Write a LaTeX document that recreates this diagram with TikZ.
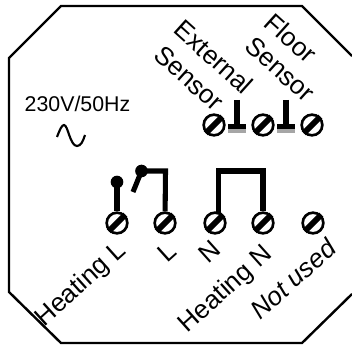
\documentclass[tikz,border=0pt]{standalone}
\usepackage{fontspec}
\setmainfont{Liberation Sans}
\usetikzlibrary{positioning}
\tikzset{
  screw/.style={circle, draw=black, line width=2pt, minimum size=15.5pt, inner sep=0pt},
  stripe/.style={line width=4.4pt, line cap=butt},
  wire/.style={black, line width=3.8pt},
  dot/.style={circle, fill=black, minimum size=9.5pt, inner sep=0pt},
  lbl/.style={font=\fontsize{19.5}{21}\selectfont, inner sep=0pt, align=center},
}
\begin{document}
\begin{tikzpicture}[x=.75pt, y=-.75pt]
\useasboundingbox (0,0) rectangle (352,345);

\draw[line width=1.8pt] (352,56) -- (302,6) -- (61,6) -- (9,58) -- (9,292) -- (61,343) -- (302,343) -- (352,294); %frame

\node[lbl, font=\fontsize{16}{18}\selectfont] (supply) at (77.5,103.5) {230V/50Hz};
\coordinate (wavestart) at (57,137);
\coordinate (waveend) at (85,135);
\draw[line width=1.6pt] (wavestart) .. controls (60,129) and (62,125) .. (64,125) .. controls (68,125) and (70,146) .. (77,146) .. controls (81,146) and (83,141) .. (waveend); %ac

%terminals
\foreach \name/\x/\y in {ext/214/125, com/263/125, flr/312/125, heatl/117/223, live/165/223, neut/215/223, heatn/263/223, unused/313/223}{
  \node[screw] (\name) at (\x,\y) {};
  \draw[stripe] (\name.225) -- (\name.45);
}

%earth symbols
\foreach \name/\x in {gnda/237, gndb/286}{
  \coordinate (\name) at (\x,126.5);
  \coordinate (\name top) at (\x,100);
  \draw[wire] (\name top) -- (\name);
  \fill[black] (\x-9,124) rectangle (\x+9,129);
  \fill[black!35] (\x-9,129) rectangle (\x+9,133.5);
}

%switch
\node[dot] (pole) at (117,182) {};
\node[dot] (blade) at (141.5,171) {};
\coordinate (bladeend) at (133,192);
\coordinate (bladecorner) at (165.5,171);
\draw[wire] (pole.center) -- (heatl);
\draw[wire] (blade.center) -- (bladeend);
\draw[wire] (blade.center) -- (bladecorner) -- (live);

%jumper
\coordinate (jumpa) at (218.5,171);
\coordinate (jumpb) at (263,171);
\coordinate (jumpa low) at (218.5,214);
\draw[wire] (jumpa low) -- (jumpa) -- (jumpb) -- (heatn);

%labels
\node[lbl, rotate=-42] (labext) at (214,57) {External};
\node[lbl, rotate=-42] (labexs) at (189,78) {Sensor};
\node[lbl, rotate=-42] (labflr) at (291,38) {Floor};
\node[lbl, rotate=-42] (labfls) at (280,69) {Sensor};
\node[lbl, rotate=42] (labhl) at (81,285) {Heating L};
\node[lbl, rotate=42] (labl) at (167,252) {L};
\node[lbl, rotate=42] (labn) at (209,252) {N};
\node[lbl, rotate=42] (labhn) at (226,290) {Heating N};
\node[lbl, rotate=42, font=\fontsize{19.5}{21}\selectfont\itshape] (labnu) at (293,279) {Not used};

\end{tikzpicture}
\end{document}
